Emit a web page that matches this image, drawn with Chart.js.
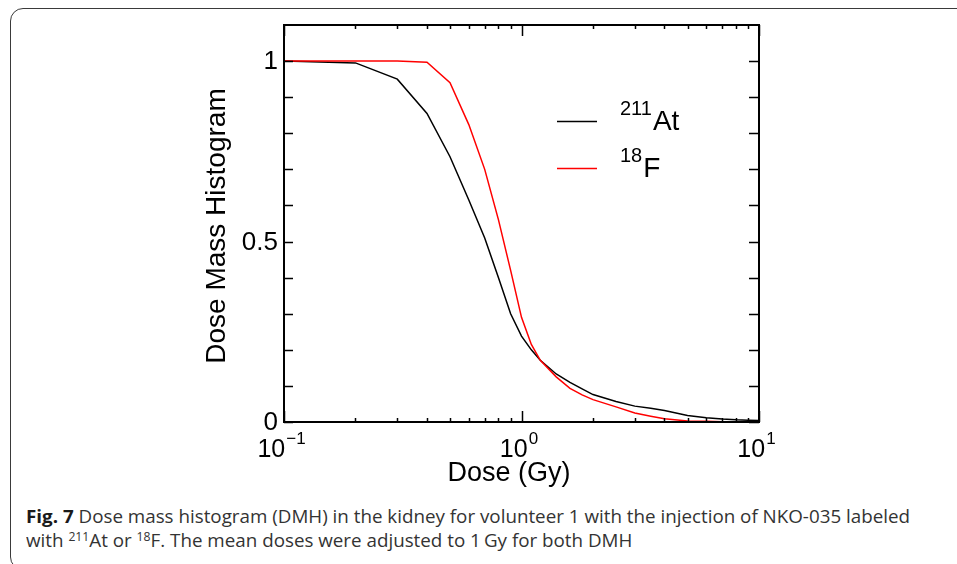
<!DOCTYPE html>
<html>
<head>
<meta charset="utf-8">
<script src="https://cdn.jsdelivr.net/npm/chart.js@4.4.1/dist/chart.umd.min.js"></script>
<style>
  html, body { margin: 0; padding: 0; background: #fff; }
  body { width: 957px; height: 564px; overflow: hidden; position: relative; }
  #frame {
    position: absolute; left: 10px; top: 8px; width: 1000px; height: 562px;
    border: 1.5px solid #3a3a3a; border-radius: 13px; box-sizing: border-box;
  }
  #chartWrap { position: absolute; left: 0; top: 0; width: 957px; height: 500px; }
  #caption {
    position: absolute; left: 26px; top: 504px;
    font-family: "Open Sans", sans-serif; font-size: 18.5px; line-height: 24px;
    color: #333; white-space: nowrap; transform-origin: 0 0;
  }
  #caption b { color: #1a1a1a; }
  #caption sup { font-size: 12px; line-height: 0; vertical-align: 6px; }
</style>
</head>
<body>
<div id="frame"></div>
<div id="chartWrap"><canvas id="dmh" width="957" height="500"></canvas></div>
<div id="caption">
  <div id="cap1"><b>Fig. 7</b> Dose mass histogram (DMH) in the kidney for volunteer 1 with the injection of NKO-035 labeled</div>
  <div>with <sup>211</sup>At or <sup>18</sup>F. The mean doses were adjusted to 1&#8201;Gy for both DMH</div>
</div>
<script>
// dose points (Gy) and DMH values
const doses  = [0.1, 0.2, 0.3, 0.4, 0.5, 0.6, 0.7, 0.8, 0.9, 1.0, 1.1, 1.2, 1.4, 1.6, 1.8, 2.0, 2.5, 3.0, 3.5, 4.0, 5.0, 6.0, 7.0, 8.0, 9.0, 10];
const at211  = [1.0, 0.995, 0.95, 0.855, 0.735, 0.615, 0.51, 0.40, 0.30, 0.238, 0.20, 0.171, 0.133, 0.11, 0.092, 0.076, 0.057, 0.044, 0.038, 0.032, 0.018, 0.012, 0.008, 0.006, 0.005, 0.004];
const f18    = [1.0, 1.0, 1.0, 0.997, 0.94, 0.824, 0.70, 0.56, 0.42, 0.29, 0.215, 0.171, 0.125, 0.093, 0.075, 0.062, 0.042, 0.025, 0.016, 0.009, 0.003, 0.002, 0.001, 0.0005, 0.0002, 0];

const seriesSup  = ['211', '18'];
const seriesName = ['At', 'F'];
const seriesColor = ['#000000', '#ff0000'];

// axis ticks
const yMinor = [0, 0.1, 0.2, 0.3, 0.4, 0.5, 0.6, 0.7, 0.8, 0.9, 1.0];
const yLabelVals = [0, 0.5, 1];
const yLabelText = ['0', '0.5', '1'];
const xMajor = [0.1, 1, 10];
const xExp = ['\u22121', '0', '1'];
const xMinor = [0.2, 0.3, 0.4, 0.5, 0.6, 0.7, 0.8, 0.9, 2, 3, 4, 5, 6, 7, 8, 9];

const FONT = '"Liberation Sans", Arial, sans-serif';

const framePlugin = {
  id: 'framePlugin',
  afterDraw(chart) {
    const ctx = chart.ctx;
    const a = chart.chartArea;
    const xs = chart.scales.x, ys = chart.scales.y;
    ctx.save();
    ctx.strokeStyle = '#000';
    ctx.fillStyle = '#000';

    // box
    ctx.lineWidth = 2;
    ctx.strokeRect(a.left, a.top, a.right - a.left, a.bottom - a.top);

    // inward ticks
    ctx.lineWidth = 1.5;
    ctx.beginPath();
    yMinor.forEach(v => {
      const y = Math.round(ys.getPixelForValue(v)) + 0.5;
      ctx.moveTo(a.left, y); ctx.lineTo(a.left + 9, y);
      ctx.moveTo(a.right, y); ctx.lineTo(a.right - 10, y);
    });
    xMajor.forEach(v => {
      const x = Math.round(xs.getPixelForValue(v)) + 0.5;
      ctx.moveTo(x, a.bottom); ctx.lineTo(x, a.bottom - 11);
      ctx.moveTo(x, a.top); ctx.lineTo(x, a.top + 11);
    });
    xMinor.forEach(v => {
      const x = Math.round(xs.getPixelForValue(v)) + 0.5;
      ctx.moveTo(x, a.bottom); ctx.lineTo(x, a.bottom - 4);
      ctx.moveTo(x, a.top); ctx.lineTo(x, a.top + 4);
    });
    ctx.stroke();

    // y tick labels
    ctx.font = '26px ' + FONT;
    ctx.textAlign = 'right';
    ctx.textBaseline = 'middle';
    yLabelVals.forEach((v, i) => {
      ctx.fillText(yLabelText[i], a.left - 6, ys.getPixelForValue(v) + 1);
    });

    // x tick labels 10^n
    ctx.textBaseline = 'alphabetic';
    ctx.textAlign = 'left';
    xMajor.forEach((v, i) => {
      ctx.font = '25px ' + FONT;
      const wb = ctx.measureText('10').width;
      ctx.font = '17px ' + FONT;
      const we = ctx.measureText(xExp[i]).width;
      const x0 = xs.getPixelForValue(v) - (wb + we) / 2 - 3;
      ctx.font = '25px ' + FONT;
      ctx.fillText('10', x0, 457);
      ctx.font = '17px ' + FONT;
      ctx.fillText(xExp[i], x0 + wb + 1, 444);
    });

    // axis titles
    ctx.font = '27px ' + FONT;
    ctx.textAlign = 'center';
    ctx.fillText('Dose (Gy)', 509, 481);
    ctx.save();
    ctx.translate(225, 226);
    ctx.rotate(-Math.PI / 2);
    ctx.font = '28px ' + FONT;
    ctx.fillText('Dose Mass Histogram', 0, 0);
    ctx.restore();

    // legend
    ctx.textAlign = 'left';
    const rows = [121, 168];
    rows.forEach((y, i) => {
      ctx.strokeStyle = seriesColor[i];
      ctx.lineWidth = 1.5;
      ctx.beginPath();
      ctx.moveTo(557, y + 0.5); ctx.lineTo(597, y + 0.5);
      ctx.stroke();
      ctx.font = '20px ' + FONT;
      ctx.fillText(seriesSup[i], 620, y - 6);
      const ws = ctx.measureText(seriesSup[i]).width;
      ctx.font = '28px ' + FONT;
      ctx.fillText(seriesName[i], 620 + ws + 1, y + 8.5);
    });

    ctx.restore();
  }
};

new Chart(document.getElementById('dmh'), {
  type: 'line',
  data: {
    datasets: [
      {
        label: seriesSup[0] + seriesName[0],
        data: doses.map((d, i) => ({ x: d, y: at211[i] })),
        borderColor: seriesColor[0],
        borderWidth: 1.5,
        pointRadius: 0,
        tension: 0,
        order: 1
      },
      {
        label: seriesSup[1] + seriesName[1],
        data: doses.map((d, i) => ({ x: d, y: f18[i] })),
        borderColor: seriesColor[1],
        borderWidth: 1.5,
        pointRadius: 0,
        tension: 0,
        order: 0
      }
    ]
  },
  options: {
    responsive: false,
    animation: false,
    layout: { padding: { left: 284, top: 25, right: 198, bottom: 78 } },
    plugins: { legend: { display: false }, tooltip: { enabled: false } },
    scales: {
      x: { type: 'logarithmic', min: 0.1, max: 10, display: false },
      y: { type: 'linear', min: 0, max: 1.1, display: false }
    }
  },
  plugins: [framePlugin]
});

// squeeze the caption to the width of the original line
const cap1 = document.getElementById('cap1');
const w = cap1.getBoundingClientRect().width;
const target = 884;
document.getElementById('caption').style.transform = 'scaleX(' + (target / w) + ')';
</script>
</body>
</html>
